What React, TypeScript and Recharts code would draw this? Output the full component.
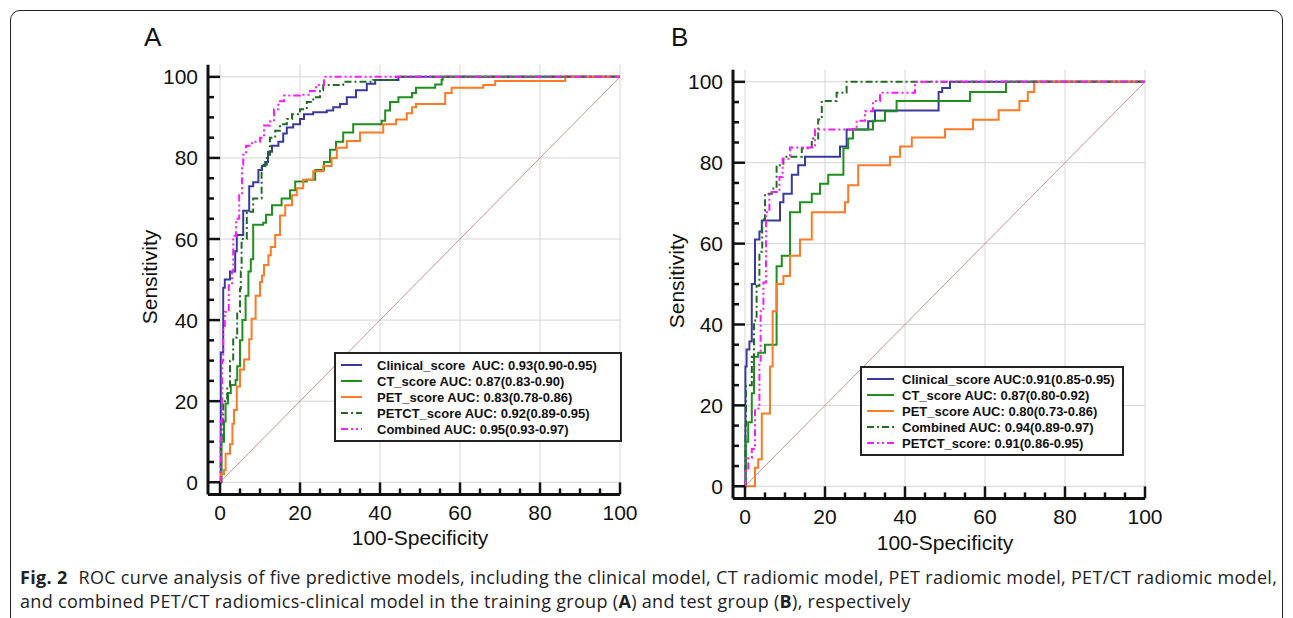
import React from "react";
import { LineChart, Line, XAxis, YAxis, ReferenceLine, Legend } from "recharts";

const TICKS = [0, 5, 10, 15, 20, 25, 30, 35, 40, 45, 50, 55, 60, 65, 70, 75, 80, 85, 90, 95, 100];
const GRID = [0, 20, 40, 60, 80, 100];

// training group (A): [100-specificity, sensitivity]
const clinicalA: [number, number][] = [
  [0, 0], [0.2, 32], [0.8, 48], [1.2, 50], [2.5, 52], [3.8, 57], [4.2, 61], [5.8, 67], [7.3, 73],
  [8.3, 74], [9.6, 77], [10.5, 78], [11.3, 79], [12, 81.5], [13, 83], [14.6, 84], [15.8, 86],
  [16.7, 87.5], [18.3, 88.3], [20, 89.6], [21, 90.8], [23.3, 91.3], [26.7, 91.7], [28.3, 92.5],
  [30, 93.3], [31.7, 95], [34, 96.7], [36.7, 98.3], [38.8, 99.2], [44.6, 100], [100, 100],
];
const ctA: [number, number][] = [
  [0, 0], [0.4, 10], [1, 15], [1.4, 19.4], [2, 22], [2.7, 24], [3.9, 25.2], [4.3, 28.6], [5, 35],
  [5.6, 40], [6.4, 46], [7.1, 52], [7.7, 55], [8.3, 63.5], [10.8, 64], [11.5, 66], [13, 68.3],
  [15.4, 70], [17.5, 72], [18.8, 74.2], [21.7, 74.6], [23.8, 77], [26, 79], [27.5, 82], [29, 84],
  [30.8, 86.3], [33.3, 88.3], [40.4, 89.2], [41.3, 91.7], [42.5, 93.8], [44.6, 95], [48, 96],
  [49, 97.3], [53.8, 98.1], [55.4, 99.3], [55.7, 100], [100, 100],
];
const petA: [number, number][] = [
  [0, 0], [0.3, 2], [1, 3], [1.4, 7], [2.5, 9.4], [3.1, 14.4], [3.5, 17.8], [4.2, 23.6], [5, 27.8],
  [6, 30.3], [7.3, 35.3], [7.9, 40.3], [8.9, 46], [10, 49.4], [10.5, 51], [11, 53.6], [12.1, 56],
  [12.7, 58], [13.8, 61], [15, 65.8], [16.3, 68.3], [18, 70.8], [19.2, 72.5], [20.8, 74.6],
  [23.3, 76.7], [25.8, 78], [27.9, 80], [29.2, 82.5], [31.7, 84.2], [35, 86.3], [40.8, 88.3],
  [44, 89.5], [46.7, 91], [48, 92.5], [49, 93.3], [56.3, 96], [57.9, 97.3], [65.8, 98], [68.8, 99],
  [86.3, 100], [100, 100],
];
const petctA: [number, number][] = [
  [0, 0], [0.2, 10], [0.8, 20], [1.8, 23.6], [2.5, 30], [3.3, 35.7], [4.3, 42], [5, 47.7], [5.2, 52],
  [5.4, 60], [6.7, 66.7], [8.3, 70], [10.4, 78.3], [11.7, 80.8], [12.5, 85], [13.8, 86.7], [15, 88.3],
  [16.7, 89.6], [18, 90.8], [20, 92], [21.7, 93.8], [23.3, 95], [25, 96.7], [25.8, 98], [30.8, 98.8],
  [38.3, 99.2], [44, 100], [100, 100],
];
const combinedA: [number, number][] = [
  [0, 0], [0.2, 15], [0.5, 30], [0.8, 38], [1.2, 42], [2.2, 48.6], [3, 52], [3.3, 60.8], [4, 65],
  [4.8, 70.8], [5.5, 78], [5.8, 80.8], [6.5, 83], [8, 84], [10, 85], [11, 88], [12.5, 89], [13.5, 92],
  [14.6, 94], [16, 95.4], [20, 95.6], [22.5, 96.5], [24, 98], [26, 100], [100, 100],
];

// test group (B)
const clinicalB: [number, number][] = [
  [0, 0], [0.1, 29.6], [0.4, 33.8], [1.1, 35.8], [1.7, 50], [2.5, 61], [3.6, 63], [4.2, 65.7],
  [8.75, 70.25], [9.6, 72.3], [11.7, 77], [13.3, 79.4], [15, 81.5], [23.75, 84], [25.4, 88.2],
  [30.8, 90.25], [32.5, 92.9], [48.4, 97.5], [49.3, 98.5], [51.25, 100], [100, 100],
];
const ctB: [number, number][] = [
  [0, 0], [0.2, 11], [0.8, 15.8], [1.7, 23], [2.25, 32], [3.3, 33], [5, 35], [7.9, 54.4], [9.2, 57],
  [11.25, 67.75], [13.75, 70.25], [16.7, 72.3], [18.75, 74.8], [20.8, 77], [24.6, 83.6], [25.8, 86],
  [27, 88.2], [32, 90.4], [35, 92.75], [37.9, 95.25], [56.25, 97.5], [65.25, 100], [100, 100],
];
const petB: [number, number][] = [
  [0, 0], [2.5, 4.6], [3.3, 6.7], [4.2, 18], [6.25, 29.6], [6.9, 43.3], [7.9, 50], [9.6, 52],
  [11.25, 57], [13.75, 61], [16.7, 67.75], [25, 70.25], [25.8, 74.4], [28.3, 79.4], [36.25, 81.5],
  [38.75, 84], [41.7, 86.25], [50, 88.3], [57, 90.6], [63.4, 93], [68.6, 95.25], [70.7, 97.5],
  [72.3, 100], [100, 100],
];
const combinedB: [number, number][] = [
  [0, 0], [0.1, 15], [0.25, 25], [1.7, 32], [2.25, 41], [2.9, 49.6], [3.6, 58], [4.3, 66], [5, 72.3],
  [6.7, 73.6], [7.9, 79.4], [9.6, 81.5], [14.2, 83.6], [16.7, 86], [18.3, 90.7], [19.2, 95.25],
  [22.9, 97.3], [25.4, 100], [100, 100],
];
const petctB: [number, number][] = [
  [0, 0], [0.1, 3.75], [0.8, 7], [1.7, 9.2], [2.5, 19.2], [3.6, 30.4], [3.9, 43.3], [4.6, 50.4],
  [5.25, 67.75], [6.1, 72.75], [8.6, 76.5], [9.4, 81], [11.25, 83.75], [17.5, 88.2], [27.9, 90.4],
  [30, 92.75], [32, 95.25], [33.75, 97.3], [42.5, 100], [100, 100],
];

const BLUE = "#3a3a9e";
const GREEN = "#1f8f1f";
const ORANGE = "#ff7a24";
const DKGREEN = "#226b22";
const MAGENTA = "#ff1aff";
const DIAG = "#c89292";
const GRIDC = "#d4d4d4";
const DASH_DOT = "7 3 2 3";
const DASH_DOT_DOT = "7 3 2 3 2 3";

type Series = { label: string; pts: [number, number][]; color: string; dash?: string };

const seriesA: Series[] = [
  { label: "Clinical_score  AUC: 0.93(0.90-0.95)", pts: clinicalA, color: BLUE },
  { label: "CT_score AUC: 0.87(0.83-0.90)", pts: ctA, color: GREEN },
  { label: "PET_score AUC: 0.83(0.78-0.86)", pts: petA, color: ORANGE },
  { label: "PETCT_score AUC: 0.92(0.89-0.95)", pts: petctA, color: DKGREEN, dash: DASH_DOT },
  { label: "Combined AUC: 0.95(0.93-0.97)", pts: combinedA, color: MAGENTA, dash: DASH_DOT_DOT },
];
const seriesB: Series[] = [
  { label: "Clinical_score AUC:0.91(0.85-0.95)", pts: clinicalB, color: BLUE },
  { label: "CT_score AUC: 0.87(0.80-0.92)", pts: ctB, color: GREEN },
  { label: "PET_score AUC: 0.80(0.73-0.86)", pts: petB, color: ORANGE },
  { label: "Combined AUC: 0.94(0.89-0.97)", pts: combinedB, color: DKGREEN, dash: DASH_DOT },
  { label: "PETCT_score: 0.91(0.86-0.95)", pts: petctB, color: MAGENTA, dash: DASH_DOT_DOT },
];

const toPts = (arr: [number, number][]) => arr.map(([x, y]) => ({ x, y }));

function XTick({ x, y, payload }: any) {
  const major = payload.value % 20 === 0;
  return (
    <g>
      <line x1={x} x2={x} y1={y} y2={y - (major ? 12 : 6)} stroke="#111" strokeWidth={2.5} />
      {major && (
        <text x={x} y={y + 26} textAnchor="middle" fontSize={21} fill="#111">
          {payload.value}
        </text>
      )}
    </g>
  );
}

function YTick({ x, y, payload }: any) {
  const major = payload.value % 20 === 0;
  return (
    <g>
      <line x1={x} x2={x + (major ? 12 : 6)} y1={y} y2={y} stroke="#111" strokeWidth={2.5} />
      {major && (
        <text x={x - 10} y={y + 7.5} textAnchor="end" fontSize={21} fill="#111">
          {payload.value}
        </text>
      )}
    </g>
  );
}

function LegendBox({ series, lineW, textLeft, width }: { series: Series[]; lineW: number; textLeft: number; width: number }) {
  return (
    <div
      style={{
        boxSizing: "border-box",
        width,
        height: 90,
        border: "2px solid #222",
        background: "#fff",
        paddingTop: 3,
        fontFamily: '"Liberation Sans", Arial, sans-serif',
        fontWeight: "bold",
        fontSize: 13,
        color: "#111",
      }}
    >
      {series.map((s) => (
        <div key={s.label} style={{ height: 16, display: "flex", alignItems: "center", whiteSpace: "pre" }}>
          <svg width={textLeft} height={16} style={{ flex: "none" }}>
            <line x1={5} x2={5 + lineW} y1={8} y2={8} stroke={s.color} strokeWidth={2} strokeDasharray={s.dash} />
          </svg>
          <span>{s.label}</span>
        </div>
      ))}
    </div>
  );
}

function RocPanel({ series, margin, legendLeft, legendTop, legendW, lineW, textLeft }: any) {
  return (
    <LineChart width={550} height={530} margin={margin}>
      {GRID.map((v) => (
        <ReferenceLine key={"h" + v} segment={[{ x: 0, y: v }, { x: 100, y: v }]} stroke={GRIDC} strokeWidth={1} />
      ))}
      {GRID.map((v) => (
        <ReferenceLine key={"v" + v} segment={[{ x: v, y: 0 }, { x: v, y: 103 }]} stroke={GRIDC} strokeWidth={1} />
      ))}
      <ReferenceLine segment={[{ x: 0, y: 0 }, { x: 100, y: 100 }]} stroke={DIAG} strokeWidth={1} />
      <XAxis
        type="number"
        dataKey="x"
        domain={[-3, 100]}
        ticks={TICKS}
        interval={0}
        allowDataOverflow
        tickLine={false}
        tickSize={0}
        tickMargin={0}
        axisLine={{ stroke: "#111", strokeWidth: 3 }}
        tick={<XTick />}
        height={30}
      />
      <YAxis
        type="number"
        domain={[-3, 103]}
        ticks={TICKS}
        interval={0}
        allowDataOverflow
        tickLine={false}
        tickSize={0}
        tickMargin={0}
        axisLine={{ stroke: "#111", strokeWidth: 3 }}
        tick={<YTick />}
        width={60}
      />
      {series.map((s: Series) => (
        <Line
          key={s.label}
          data={toPts(s.pts)}
          dataKey="y"
          type="stepAfter"
          stroke={s.color}
          strokeWidth={2}
          strokeDasharray={s.dash}
          dot={false}
          activeDot={false}
          isAnimationActive={false}
        />
      ))}
      <Legend
        layout="vertical"
        align="center"
        verticalAlign="middle"
        wrapperStyle={{ left: legendLeft, top: legendTop, width: legendW }}
        content={() => <LegendBox series={series} lineW={lineW} textLeft={textLeft} width={legendW} />}
      />
    </LineChart>
  );
}

const abs = (s: React.CSSProperties): React.CSSProperties => ({ position: "absolute", ...s });

export default function App() {
  return (
    <div
      style={abs({
        left: 0,
        top: 0,
        width: 1293,
        height: 618,
        overflow: "hidden",
        background: "#fff",
        fontFamily: '"Liberation Sans", Arial, sans-serif',
        color: "#111",
      })}
    >
      <div style={abs({ left: 10, top: 10, width: 1273, height: 700, border: "1px solid #222", borderRadius: 10, boxSizing: "border-box" })} />

      <div style={abs({ left: 100, top: 20 })}>
        <RocPanel
          series={seriesA}
          margin={{ top: 44.7, right: 30, left: 48, bottom: 25.6 }}
          legendLeft={234}
          legendTop={332}
          legendW={288}
          lineW={21}
          textLeft={41}
        />
      </div>
      <div style={abs({ left: 625, top: 20 })}>
        <RocPanel
          series={seriesB}
          margin={{ top: 49.7, right: 30, left: 48, bottom: 21.6 }}
          legendLeft={235}
          legendTop={346}
          legendW={264}
          lineW={27}
          textLeft={40}
        />
      </div>

      <div style={abs({ left: 144, top: 22, fontSize: 26 })}>A</div>
      <div style={abs({ left: 671, top: 22, fontSize: 26 })}>B</div>

      <div style={abs({ left: 150, top: 277, fontSize: 21, transform: "translate(-50%, -50%) rotate(-90deg)", whiteSpace: "nowrap" })}>
        Sensitivity
      </div>
      <div style={abs({ left: 677, top: 281, fontSize: 21, transform: "translate(-50%, -50%) rotate(-90deg)", whiteSpace: "nowrap" })}>
        Sensitivity
      </div>
      <div style={abs({ left: 420, top: 538, fontSize: 21, transform: "translate(-50%, -50%)", whiteSpace: "nowrap" })}>
        100-Specificity
      </div>
      <div style={abs({ left: 945, top: 543, fontSize: 21, transform: "translate(-50%, -50%)", whiteSpace: "nowrap" })}>
        100-Specificity
      </div>

      <div
        style={abs({
          left: 20,
          top: 565,
          fontFamily: '"Open Sans", sans-serif',
          fontSize: 18,
          letterSpacing: 0.31,
          lineHeight: "24px",
          whiteSpace: "nowrap",
          color: "#222",
        })}
      >
        <div>
          <b style={{ marginRight: 6 }}>Fig. 2</b> ROC curve analysis of five predictive models, including the clinical model, CT radiomic model, PET radiomic model, PET/CT radiomic model,
        </div>
        <div>
          and combined PET/CT radiomics-clinical model in the training group (<b>A</b>) and test group (<b>B</b>), respectively
        </div>
      </div>
    </div>
  );
}
